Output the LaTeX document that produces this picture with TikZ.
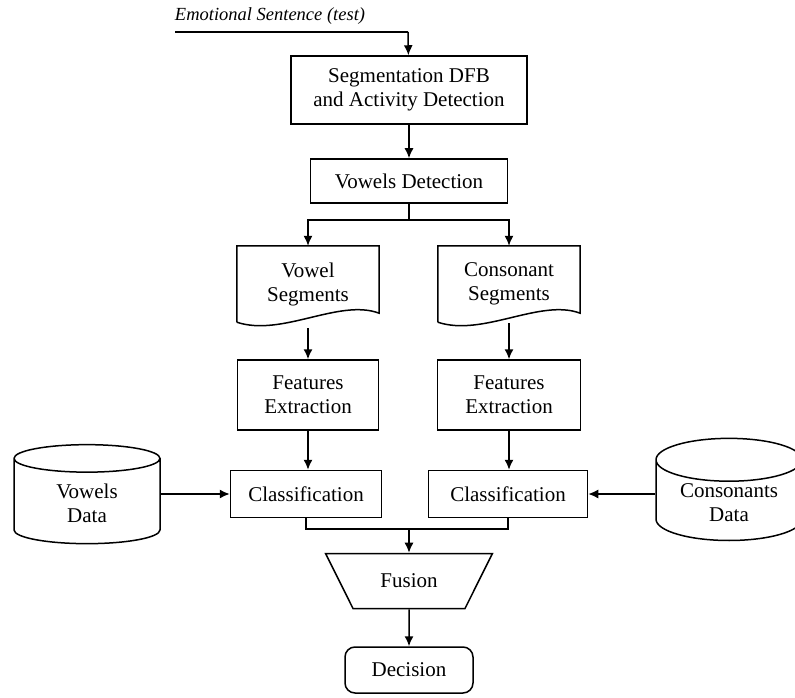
\documentclass[tikz,border=0pt]{standalone}
\usepackage{fontspec}
\setmainfont{Liberation Serif}
\usetikzlibrary{shapes.geometric, arrows.meta}

\tikzset{
	thickline/.style={line width=1.5pt},
	arr/.style={thickline, -{Latex[length=10pt, width=9pt]}},
	box/.style={draw, thickline, align=center, inner sep=2pt},
	doc/.style={align=center, minimum width=142pt, minimum height=76pt, inner sep=2pt},
	db/.style={draw, thickline, cylinder, shape border rotate=90, aspect=0.42, minimum width=146pt, minimum height=99pt, align=center, inner sep=2pt},
}
% document shape: straight top and sides, wavy bottom
\newcommand{\docwave}[1]{
	\draw [thickline] (#1.south west) -- (#1.north west) -- (#1.north east) -- ([yshift=9pt]#1.south east)
		.. controls +(-40,-15) and +(45,15) .. (#1.south west);
}

\begin{document}
\begin{tikzpicture}[x=1pt, y=-1pt, font=\fontsize{21}{24}\selectfont]
	\useasboundingbox (0,0) rectangle (795,698);

	\node (in)[font=\fontsize{18.5}{22}\selectfont\itshape] at (270,16) {Emotional Sentence (test)};
	\coordinate (in0) at (175,32);
	\coordinate (in1) at (408,32);

	\node (seg)[box, minimum width=236pt, minimum height=68pt] at (409,90) {
		Segmentation DFB\\and Activity Detection};
	\node (det)[box, minimum width=197pt, minimum height=44pt] at (409,181) {Vowels Detection};
	\coordinate (sp) at (409,220);

	\node (vs)[doc] at (308,284) {Vowel\\Segments};
	\node (cs)[doc] at (509,284) {Consonant\\Segments};
	\docwave{vs}
	\docwave{cs}

	\node (fe1)[box, minimum width=141pt, minimum height=70pt] at (308,395) {Features\\Extraction};
	\node (fe2)[box, minimum width=143pt, minimum height=70pt] at (509,395) {Features\\Extraction};

	\node (cl1)[box, minimum width=151pt, minimum height=47pt] at (306,494) {Classification};
	\node (cl2)[box, minimum width=159pt, minimum height=47pt] at (508,494) {Classification};

	\node (vdb)[db] at (87,503) {Vowels\\Data};
	\node (cdb)[db] at (729,503) {Consonants\\Data};

	\coordinate (mj) at (409,529);
	\node (fu)[draw, thickline, trapezium, shape border rotate=180, trapezium stretches=true,
		trapezium angle=53, minimum width=167pt, minimum height=55pt] at (409,581) {Fusion};
	\node (dec)[box, rounded corners=10pt, minimum width=128pt, minimum height=46pt] at (409,670) {Decision};

	\draw [thickline](in0) -- (in1);
	\draw [arr](in1) -- (seg);
	\draw [arr](seg) -- (det);
	\draw [thickline](det) -- (sp);
	\draw [arr](sp) -| (vs.north);
	\draw [arr](sp) -| (cs.north);
	\draw [arr]([yshift=-6pt]vs.south) -- (fe1);
	\draw [arr]([yshift=-1pt]cs.south) -- (fe2);
	\draw [arr](fe1) -- (fe1 |- cl1.north);
	\draw [arr](fe2) -- (fe2 |- cl2.north);
	\draw [arr](vdb.east |- cl1.west) -- (cl1.west);
	\draw [arr](cdb.west |- cl2.east) -- (cl2.east);
	\draw [thickline](cl1.south) |- (mj);
	\draw [thickline](cl2.south) |- (mj);
	\draw [arr](mj) -- (fu);
	\draw [arr](fu) -- (dec);
\end{tikzpicture}
\end{document}
